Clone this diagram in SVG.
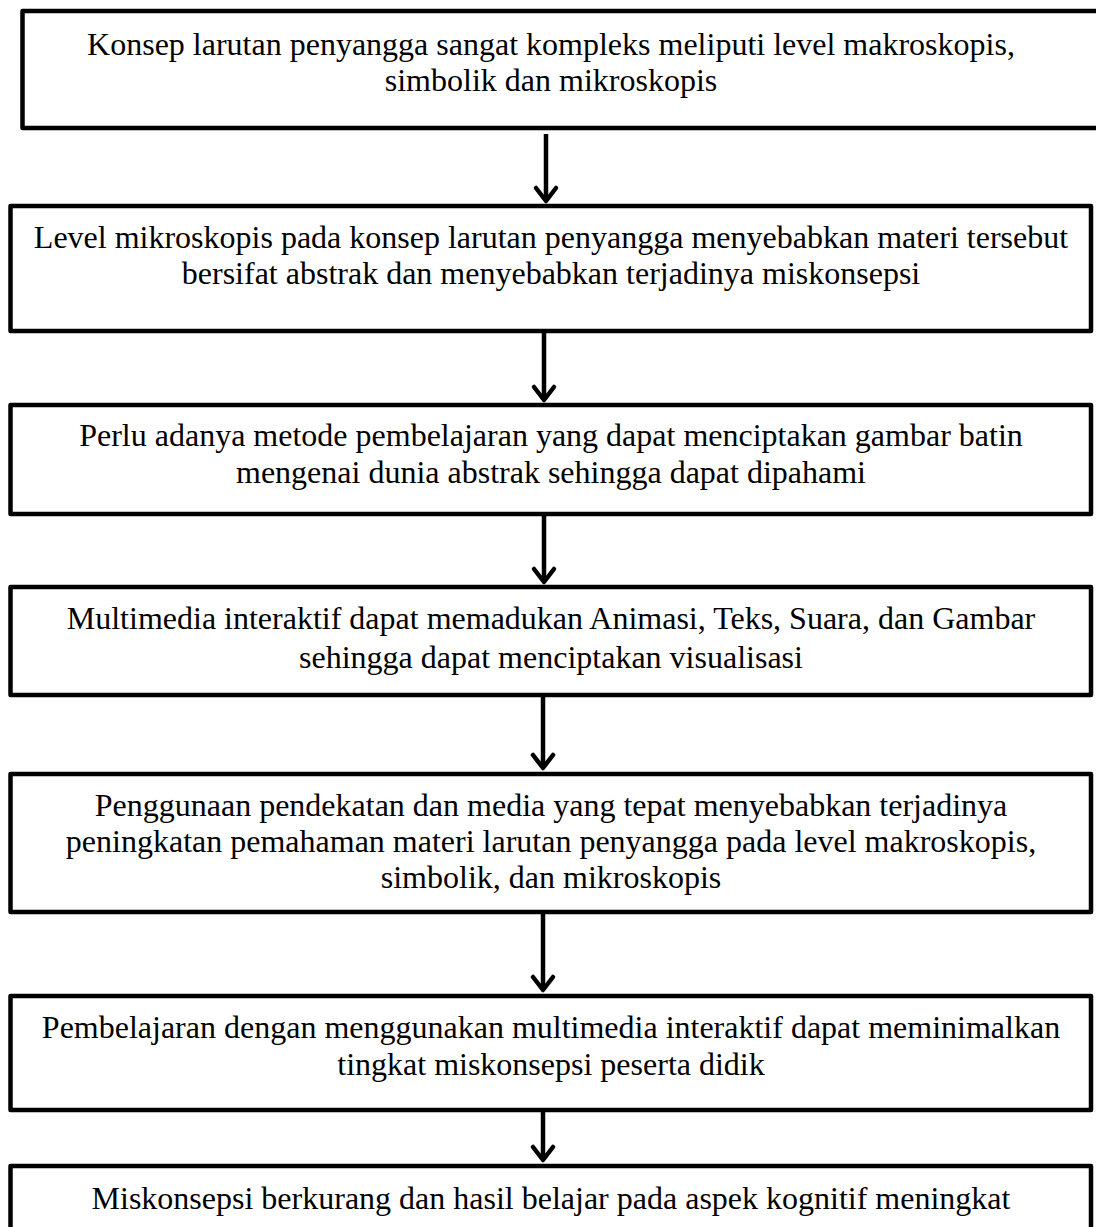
<svg xmlns="http://www.w3.org/2000/svg" width="1096" height="1227" viewBox="0 0 1096 1227">
<style>
.box{fill:#fff;stroke:#000;stroke-width:4.5;stroke-linejoin:round}
.t{font-family:"Liberation Serif","Times New Roman",serif;font-size:32px;fill:#000;text-anchor:middle}
.c{stroke:#000;stroke-width:4.5;fill:none}
</style>
<defs>
<marker id="ah" markerUnits="userSpaceOnUse" orient="auto" refX="0" refY="0" markerWidth="30" markerHeight="30" viewBox="-20 -15 30 30" overflow="visible">
<path d="M-13,-10 L0,0 L-13,10" fill="none" stroke="#000" stroke-width="4.5" stroke-linecap="round" stroke-linejoin="round"/>
</marker>
</defs>
<g id="connectors">
<line class="c" x1="546" y1="134" x2="546" y2="201" marker-end="url(#ah)"/>
<line class="c" x1="544" y1="333" x2="544" y2="400" marker-end="url(#ah)"/>
<line class="c" x1="544" y1="516" x2="544" y2="582" marker-end="url(#ah)"/>
<line class="c" x1="543" y1="697" x2="543" y2="768" marker-end="url(#ah)"/>
<line class="c" x1="543" y1="914" x2="543" y2="990" marker-end="url(#ah)"/>
<line class="c" x1="543" y1="1112" x2="543" y2="1160" marker-end="url(#ah)"/>
</g>
<g id="node1">
<rect class="box" x="22.5" y="11" width="1090" height="117"/>
<text class="t" x="551" y="55">Konsep larutan penyangga sangat kompleks meliputi level makroskopis,</text>
<text class="t" x="551" y="91">simbolik dan mikroskopis</text>
</g>
<g id="node2">
<rect class="box" x="10.5" y="206" width="1080.5" height="125"/>
<text class="t" x="551" y="248">Level mikroskopis pada konsep larutan penyangga menyebabkan materi tersebut</text>
<text class="t" x="551" y="284">bersifat abstrak dan menyebabkan terjadinya miskonsepsi</text>
</g>
<g id="node3">
<rect class="box" x="10.5" y="405" width="1080.5" height="109"/>
<text class="t" x="551" y="446">Perlu adanya metode pembelajaran yang dapat menciptakan gambar batin</text>
<text class="t" x="551" y="483">mengenai dunia abstrak sehingga dapat dipahami</text>
</g>
<g id="node4">
<rect class="box" x="10.5" y="587" width="1080.5" height="108"/>
<text class="t" x="551" y="629">Multimedia interaktif dapat memadukan Animasi, Teks, Suara, dan Gambar</text>
<text class="t" x="551" y="668">sehingga dapat menciptakan visualisasi</text>
</g>
<g id="node5">
<rect class="box" x="10.5" y="774" width="1080.5" height="138"/>
<text class="t" x="551" y="816">Penggunaan pendekatan dan media yang tepat menyebabkan terjadinya</text>
<text class="t" x="551" y="852">peningkatan pemahaman materi larutan penyangga pada level makroskopis,</text>
<text class="t" x="551" y="888">simbolik, dan mikroskopis</text>
</g>
<g id="node6">
<rect class="box" x="10.5" y="996" width="1080.5" height="114"/>
<text class="t" x="551" y="1038">Pembelajaran dengan menggunakan multimedia interaktif dapat meminimalkan</text>
<text class="t" x="551" y="1075">tingkat miskonsepsi peserta didik</text>
</g>
<g id="node7">
<rect class="box" x="10.5" y="1166" width="1080.5" height="90"/>
<text class="t" x="551" y="1209">Miskonsepsi berkurang dan hasil belajar pada aspek kognitif meningkat</text>
</g>
</svg>
